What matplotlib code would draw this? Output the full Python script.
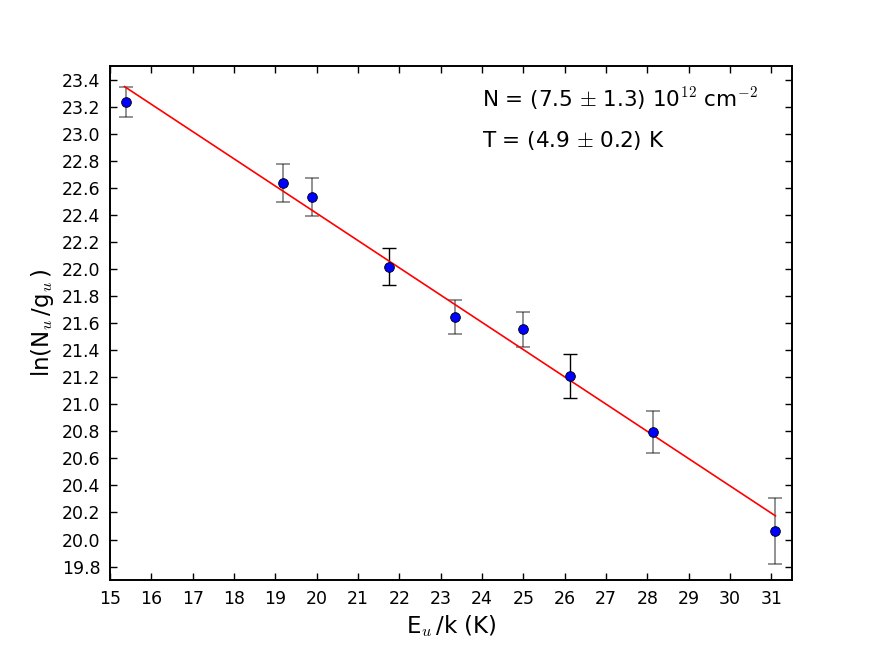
import numpy as np
import matplotlib
matplotlib.use('Agg')
import matplotlib.pyplot as plt

# rotational diagram values
e_up = [15.38, 19.19, 19.88, 21.75, 23.34, 25.0, 26.12, 28.13, 31.08]
ln_ng = [23.233, 22.632, 22.532, 22.017, 21.643, 21.553, 21.209, 20.797, 20.062]
ln_err = [0.11, 0.14, 0.14, 0.135, 0.126, 0.127, 0.16, 0.155, 0.245]

# fitted line end points
fit_x = [15.35, 31.1]
fit_y = [23.348, 20.175]

plt.rcParams['mathtext.fontset'] = 'cm'
plt.rcParams['font.family'] = 'DejaVu Sans'

fig = plt.figure(figsize=(8.8, 6.6), dpi=100)
ax = fig.add_axes([0.125, 0.121, 0.775, 0.779])

dark = [3, 6]
light = [i for i in range(len(e_up)) if i not in dark]
ax.errorbar([e_up[i] for i in light], [ln_ng[i] for i in light],
            yerr=[ln_err[i] for i in light], fmt='none', ecolor='k',
            alpha=0.5, elinewidth=1.2, capsize=5, capthick=1.2)
ax.errorbar([e_up[i] for i in dark], [ln_ng[i] for i in dark],
            yerr=[ln_err[i] for i in dark], fmt='none', ecolor='k',
            elinewidth=1.0, capsize=5, capthick=1.0)
ax.plot(e_up, ln_ng, 'o', color='b', markeredgecolor='k',
        markeredgewidth=0.6, markersize=7, zorder=3)
ax.plot(fit_x, fit_y, color='r', lw=1.2, zorder=2)

ax.text(24.0, 23.2, r'N = (7.5 $\pm$ 1.3) 10$^{12}$ cm$^{-2}$', fontsize=15.5)
ax.text(24.0, 22.9, r'T = (4.9 $\pm$ 0.2) K', fontsize=15.5)

ax.set_xlim(15, 31.5)
ax.set_ylim(19.7, 23.5)
ax.set_xticks(np.arange(15, 32, 1))
ax.set_yticks(np.arange(19.8, 23.41, 0.2))
ax.set_yticklabels(['%.1f' % v for v in np.arange(19.8, 23.41, 0.2)])
ax.tick_params(direction='in', top=True, right=True, length=5, width=1,
               labelsize=12.5, pad=7)
for s in ax.spines.values():
    s.set_linewidth(1.4)

ax.set_xlabel(r'E$_u\,$/k (K)', fontsize=16.5)
ax.set_ylabel(r'ln(N$_u\,$/g$_u\,$)', fontsize=16.5)

fig.savefig('out.png', dpi=100)
